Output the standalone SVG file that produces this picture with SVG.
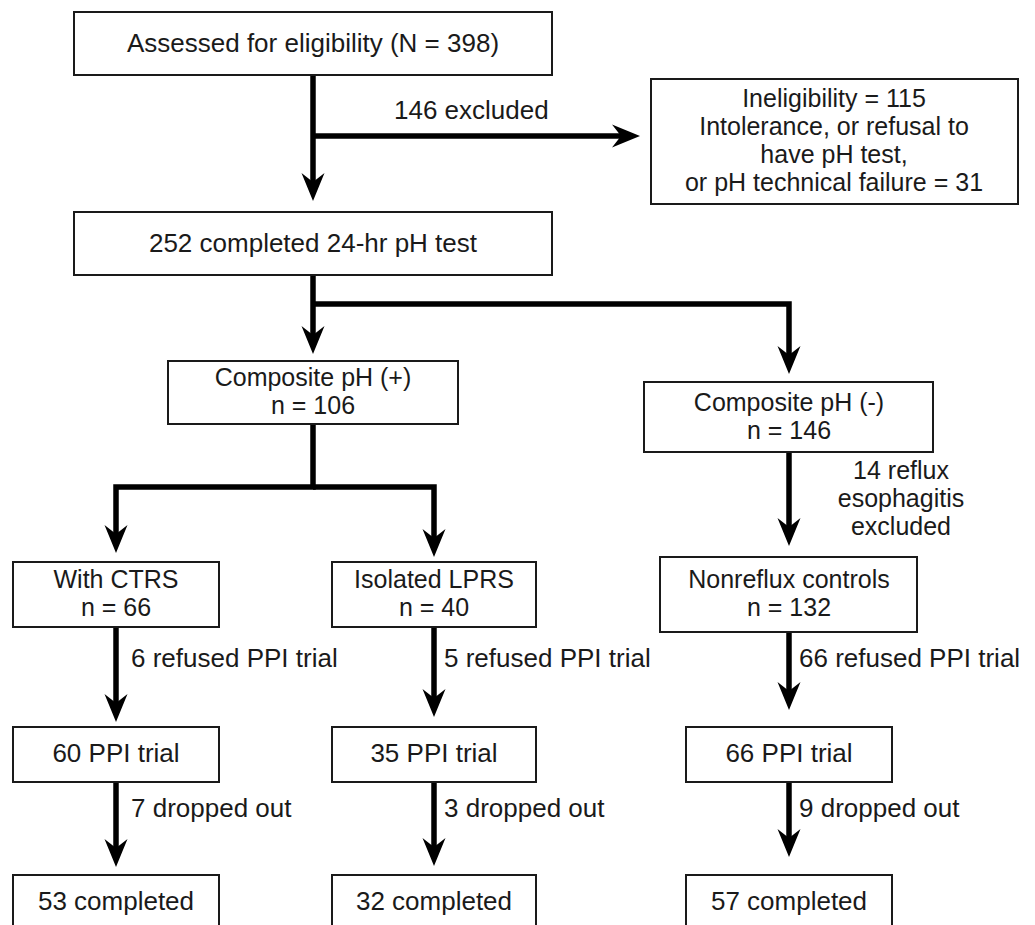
<svg xmlns="http://www.w3.org/2000/svg" width="1035" height="925" viewBox="0 0 1035 925">
<defs>
<style>
.box{fill:#fff;stroke:#1a1a1a;stroke-width:2}
.t{font-family:"Liberation Sans",Arial,Helvetica,sans-serif;font-size:26px;fill:#1a1a1a}
.m{font-size:25px}
.c{text-anchor:middle}
.ln{fill:none;stroke:#000;stroke-width:5.5;stroke-linejoin:miter}
</style>
<marker id="ah" markerUnits="userSpaceOnUse" viewBox="-29 -12 30 24" markerWidth="30" markerHeight="24" refX="-15" refY="0" orient="auto">
<path d="M0,0 L-28,-11.5 L-19,0 L-28,11.5 Z" fill="#000"/>
</marker>
</defs>
<rect width="1035" height="925" fill="#fff"/>
<g id="connectors">
<path class="ln" d="M313,75 V186" marker-end="url(#ah)"/>
<path class="ln" d="M313,136 H625" marker-end="url(#ah)"/>
<path class="ln" d="M313,275 V339" marker-end="url(#ah)"/>
<path class="ln" d="M313,304 H789 V359" marker-end="url(#ah)"/>
<path class="ln" d="M789,452 V531" marker-end="url(#ah)"/>
<path class="ln" d="M313,424 V487 H116 V538" marker-end="url(#ah)"/>
<path class="ln" d="M313,487 H434 V542" marker-end="url(#ah)"/>
<path class="ln" d="M116,627 V707" marker-end="url(#ah)"/>
<path class="ln" d="M434,627 V702" marker-end="url(#ah)"/>
<path class="ln" d="M789,632 V695" marker-end="url(#ah)"/>
<path class="ln" d="M116,782 V852" marker-end="url(#ah)"/>
<path class="ln" d="M434,782 V851" marker-end="url(#ah)"/>
<path class="ln" d="M789,782 V842" marker-end="url(#ah)"/>
<text class="t" x="394" y="119">146 excluded</text>
<text class="t m c" x="901" y="479">14 reflux<tspan x="901" dy="28">esophagitis</tspan><tspan x="901" dy="28">excluded</tspan></text>
<text class="t" x="131" y="667">6 refused PPI trial</text>
<text class="t" x="444" y="667">5 refused PPI trial</text>
<text class="t" x="799" y="667">66 refused PPI trial</text>
<text class="t" x="131" y="817">7 dropped out</text>
<text class="t" x="444" y="817">3 dropped out</text>
<text class="t" x="799" y="817">9 dropped out</text>
</g>
<g id="assessed">
<rect class="box" x="74" y="12" width="478" height="63"/>
<text class="t c" x="313" y="52">Assessed for eligibility (N = 398)</text>
</g>
<g id="excluded">
<rect class="box" x="651" y="79" width="367" height="125"/>
<text class="t m c" x="834" y="107">Ineligibility = 115<tspan x="834" dy="28">Intolerance, or refusal to</tspan><tspan x="834" dy="28">have pH test,</tspan><tspan x="834" dy="28">or pH technical failure = 31</tspan></text>
</g>
<g id="completed-ph">
<rect class="box" x="74" y="212" width="478" height="63"/>
<text class="t c" x="313" y="252">252 completed 24-hr pH test</text>
</g>
<g id="ph-positive">
<rect class="box" x="168" y="361" width="290" height="63"/>
<text class="t m c" x="313" y="386">Composite pH (+)<tspan x="313" dy="28">n = 106</tspan></text>
</g>
<g id="ph-negative">
<rect class="box" x="644" y="382" width="289" height="70"/>
<text class="t m c" x="789" y="411">Composite pH (-)<tspan x="789" dy="28">n = 146</tspan></text>
</g>
<g id="ctrs">
<rect class="box" x="13" y="562" width="206" height="65"/>
<text class="t m c" x="116" y="588">With CTRS<tspan x="116" dy="28">n = 66</tspan></text>
</g>
<g id="lprs">
<rect class="box" x="332" y="562" width="204" height="65"/>
<text class="t m c" x="434" y="588">Isolated LPRS<tspan x="434" dy="28">n = 40</tspan></text>
</g>
<g id="controls">
<rect class="box" x="660" y="557" width="257" height="75"/>
<text class="t m c" x="789" y="588">Nonreflux controls<tspan x="789" dy="28">n = 132</tspan></text>
</g>
<g id="ppi-ctrs">
<rect class="box" x="13" y="727" width="206" height="55"/>
<text class="t c" x="116" y="762">60 PPI trial</text>
</g>
<g id="ppi-lprs">
<rect class="box" x="332" y="727" width="204" height="55"/>
<text class="t c" x="434" y="762">35 PPI trial</text>
</g>
<g id="ppi-controls">
<rect class="box" x="686" y="727" width="206" height="55"/>
<text class="t c" x="789" y="762">66 PPI trial</text>
</g>
<g id="done-ctrs">
<rect class="box" x="13" y="875" width="206" height="70"/>
<text class="t c" x="116" y="910">53 completed</text>
</g>
<g id="done-lprs">
<rect class="box" x="332" y="875" width="204" height="70"/>
<text class="t c" x="434" y="910">32 completed</text>
</g>
<g id="done-controls">
<rect class="box" x="686" y="875" width="206" height="70"/>
<text class="t c" x="789" y="910">57 completed</text>
</g>
</svg>
